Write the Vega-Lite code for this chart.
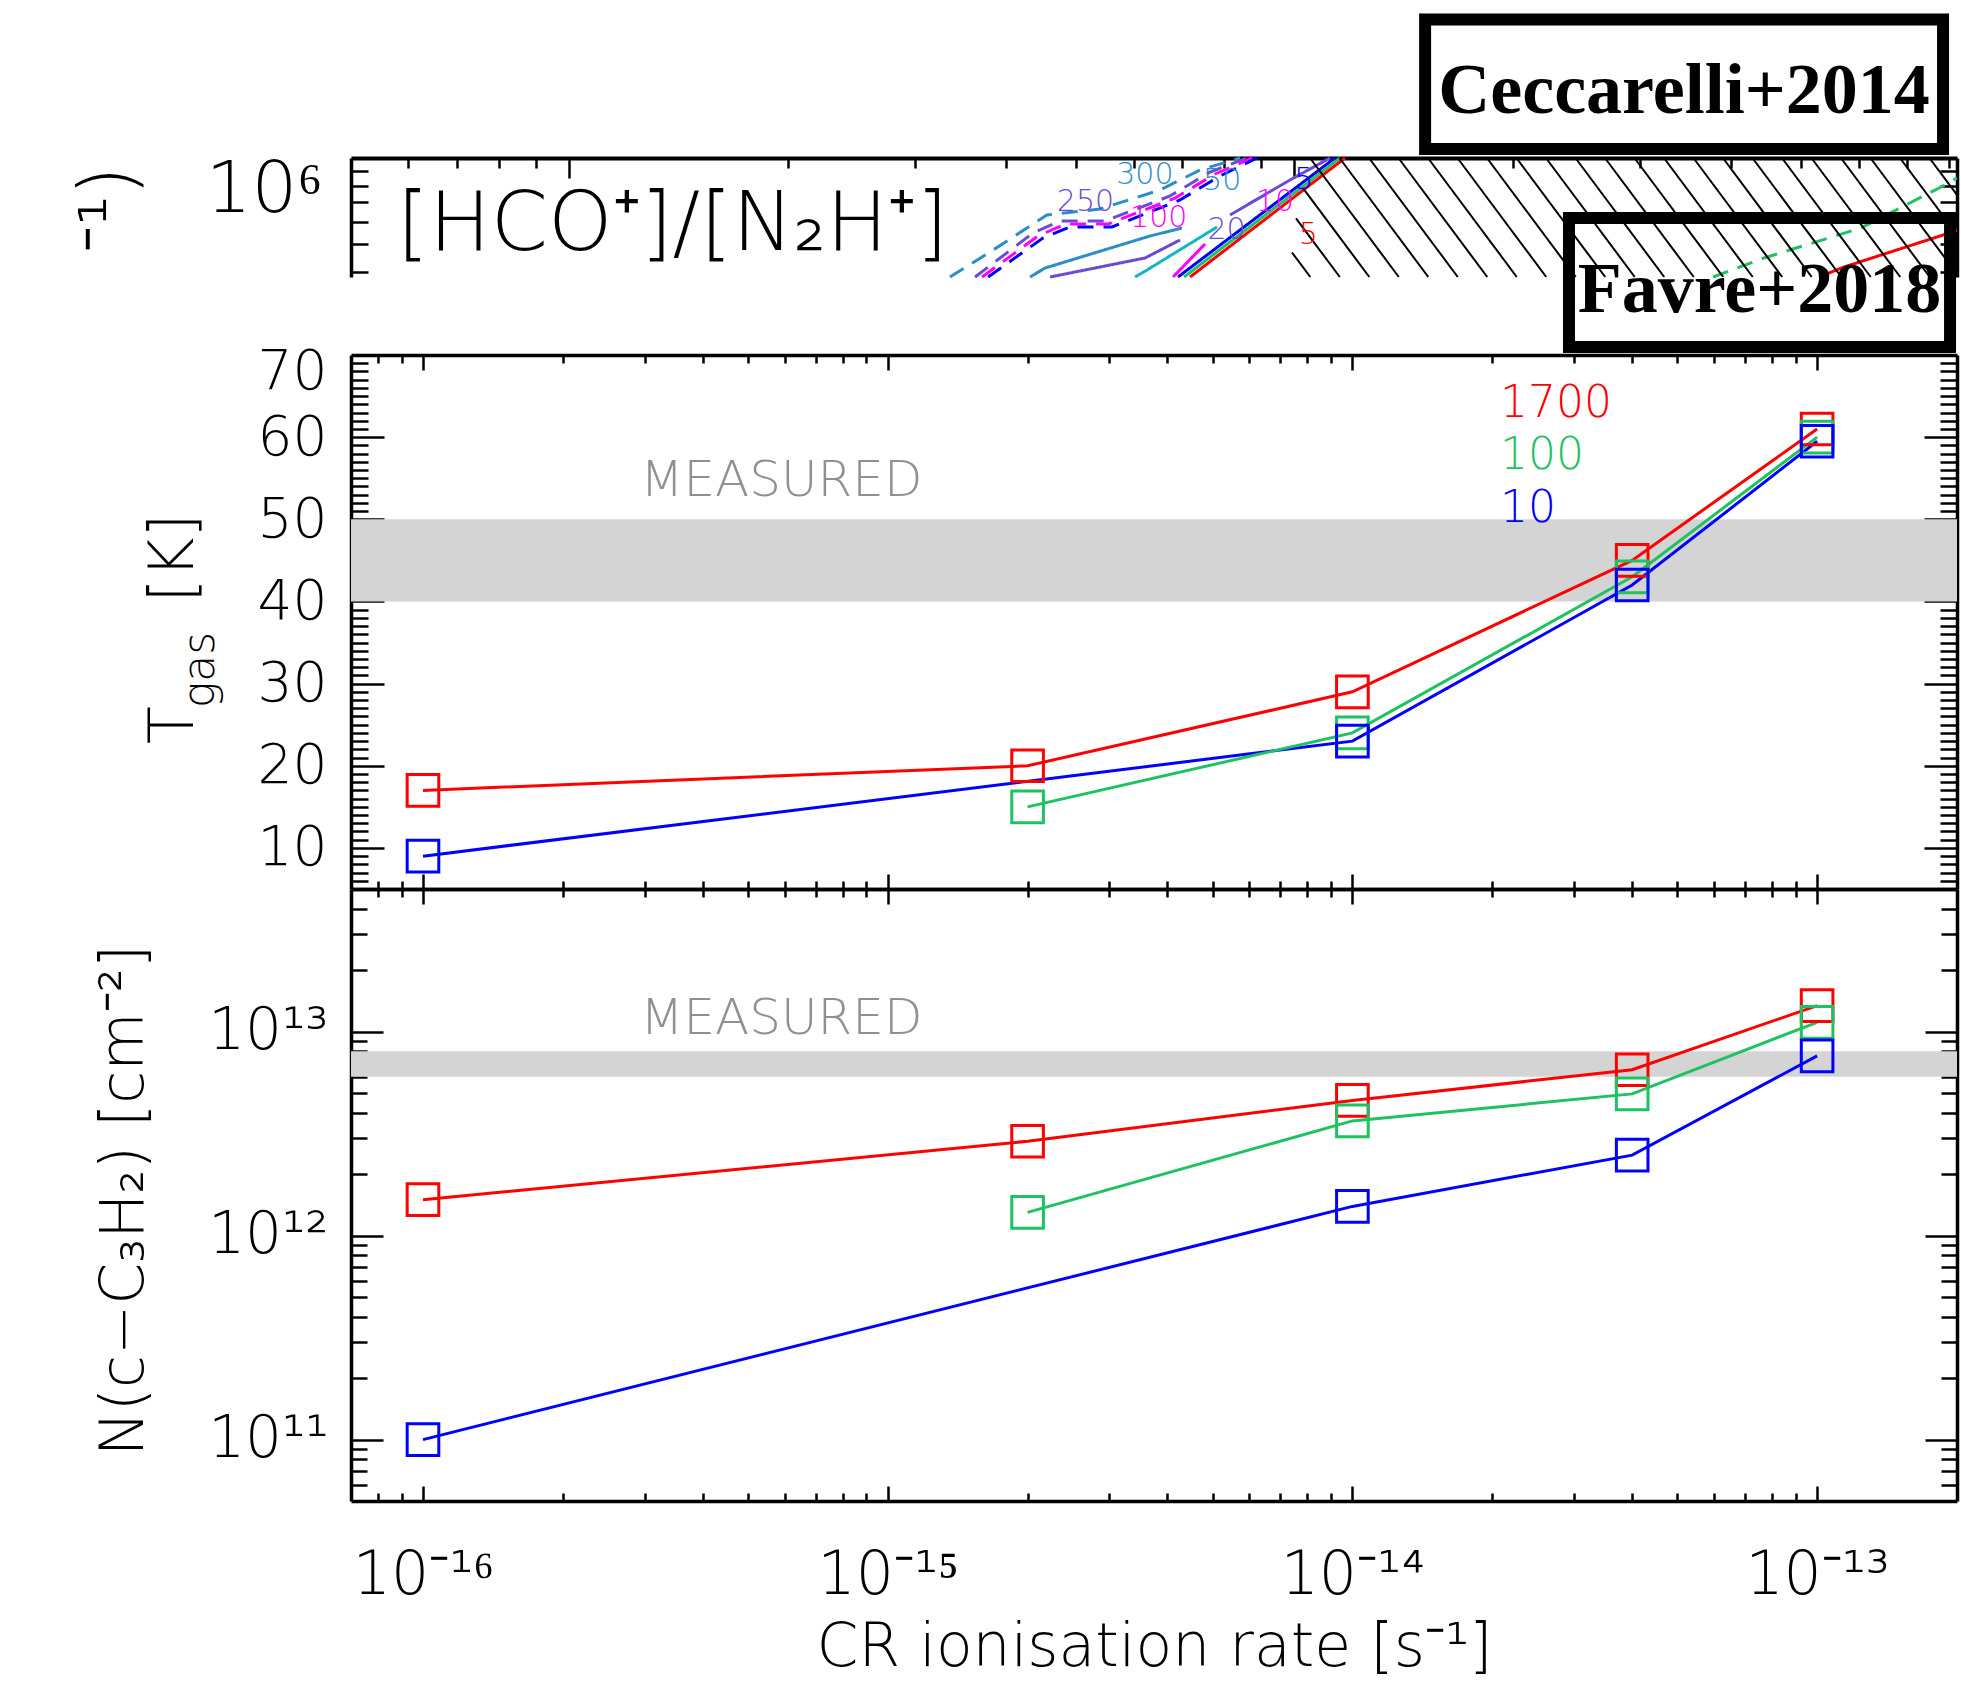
{
  "$schema": "https://vega.github.io/schema/vega-lite/v6.json",
  "width": 1961,
  "height": 1691,
  "autosize": {"type": "none"},
  "padding": 0,
  "background": "white",
  "config": {
    "view": {"stroke": null},
    "axis": {"grid": false, "labelFont": "DejaVu Sans", "titleFont": "DejaVu Sans", "labelFontWeight": 200, "titleFontWeight": 200, "labelColor": "#000000", "titleColor": "#000000", "domainColor": "#000000", "tickColor": "#000000", "domainWidth": 3.5, "tickWidth": 2.5},
    "text": {"font": "DejaVu Sans"}
  },
  "data": {"values": [{}]},
  "datasets": {
    "models": [
      {"zeta": 1e-16, "n": "1700", "T": 17, "N": 1.5e12},
      {"zeta": 1e-16, "n": "10", "T": 9, "N": 1e11},
      {"zeta": 2e-15, "n": "1700", "T": 20, "N": 2.9e12},
      {"zeta": 2e-15, "n": "100", "T": 15, "N": 1.3e12},
      {"zeta": 1e-14, "n": "1700", "T": 29, "N": 4.6e12},
      {"zeta": 1e-14, "n": "100", "T": 24, "N": 3.65e12},
      {"zeta": 1e-14, "n": "10", "T": 23, "N": 1.39e12},
      {"zeta": 4e-14, "n": "1700", "T": 45, "N": 6.5e12},
      {"zeta": 4e-14, "n": "100", "T": 43, "N": 4.95e12},
      {"zeta": 4e-14, "n": "10", "T": 42, "N": 2.48e12},
      {"zeta": 1e-13, "n": "1700", "T": 61, "N": 1.34e13},
      {"zeta": 1e-13, "n": "100", "T": 60, "N": 1.11e13},
      {"zeta": 1e-13, "n": "10", "T": 59.5, "N": 7.6e12}
    ],
    "measured": [
      {"quantity": "T", "lo": 40, "hi": 50},
      {"quantity": "N", "lo": 6e12, "hi": 8e12}
    ],
    "contours": [
      {"s": "c1", "x": 3350, "r": 385000}, {"s": "c1", "x": 3804, "r": 470500}, {"s": "c1", "x": 4558, "r": 633000}, {"s": "c1", "x": 5394, "r": 664200}, {"s": "c1", "x": 6527, "r": 773600}, {"s": "c1", "x": 7411, "r": 908200}, {"s": "c1", "x": 8416, "r": 1000000},
      {"s": "c2", "x": 3627, "r": 385000}, {"s": "c2", "x": 4360, "r": 547900}, {"s": "c2", "x": 4750, "r": 603300}, {"s": "c2", "x": 5481, "r": 603300}, {"s": "c2", "x": 6737, "r": 737300}, {"s": "c2", "x": 7650, "r": 893700}, {"s": "c2", "x": 8605, "r": 1000000},
      {"s": "c3", "x": 3709, "r": 385000}, {"s": "c3", "x": 4430, "r": 534900}, {"s": "c3", "x": 4827, "r": 588800}, {"s": "c3", "x": 5533, "r": 588800}, {"s": "c3", "x": 6845, "r": 725300}, {"s": "c3", "x": 7773, "r": 879600}, {"s": "c3", "x": 8743, "r": 1000000},
      {"s": "c4", "x": 3781, "r": 385000}, {"s": "c4", "x": 4501, "r": 526400}, {"s": "c4", "x": 4904, "r": 575000}, {"s": "c4", "x": 5604, "r": 575000}, {"s": "c4", "x": 6954, "r": 714000}, {"s": "c4", "x": 7897, "r": 865800}, {"s": "c4", "x": 8883, "r": 1000000},
      {"s": "c5", "x": 4319, "r": 385000}, {"s": "c5", "x": 4530, "r": 413700}, {"s": "c5", "x": 6323, "r": 534900}, {"s": "c5", "x": 6999, "r": 570400},
      {"s": "c6", "x": 4603, "r": 385000}, {"s": "c6", "x": 6223, "r": 448400}, {"s": "c6", "x": 6954, "r": 518000},
      {"s": "c7", "x": 6029, "r": 385000}, {"s": "c7", "x": 6263, "r": 407200}, {"s": "c7", "x": 7823, "r": 575000},
      {"s": "c8", "x": 6802, "r": 385000}, {"s": "c8", "x": 7529, "r": 501500},
      {"s": "c9", "x": 6910, "r": 385000}, {"s": "c9", "x": 11376, "r": 1000000},
      {"s": "c10", "x": 7044, "r": 385000}, {"s": "c10", "x": 11559, "r": 1000000},
      {"s": "c11", "x": 7180, "r": 385000}, {"s": "c11", "x": 11744, "r": 1000000},
      {"s": "c12", "x": 8152, "r": 633000}, {"s": "c12", "x": 9862, "r": 838300}, {"s": "c12", "x": 11197, "r": 1000000},
      {"s": "c13", "x": 37790, "r": 385000}, {"s": "c13", "x": 44430, "r": 448400}, {"s": "c13", "x": 60440, "r": 570400}, {"s": "c13", "x": 77950, "r": 792500}, {"s": "c13", "x": 82000, "r": 851800},
      {"s": "c14", "x": 52900, "r": 385000}, {"s": "c14", "x": 57280, "r": 417100}, {"s": "c14", "x": 78450, "r": 539200}, {"s": "c14", "x": 82000, "r": 561200}
    ],
    "hatch": [
      {"x1": 10509, "r1": 1000000, "x2": 13931, "r2": 385000},
      {"x1": 11541, "r1": 1000000, "x2": 15299, "r2": 385000},
      {"x1": 12674, "r1": 1000000, "x2": 16801, "r2": 385000},
      {"x1": 13918, "r1": 1000000, "x2": 18450, "r2": 385000},
      {"x1": 15285, "r1": 1000000, "x2": 20262, "r2": 385000},
      {"x1": 16786, "r1": 1000000, "x2": 22252, "r2": 385000},
      {"x1": 18434, "r1": 1000000, "x2": 24436, "r2": 385000},
      {"x1": 20244, "r1": 1000000, "x2": 26836, "r2": 385000},
      {"x1": 22232, "r1": 1000000, "x2": 29471, "r2": 385000},
      {"x1": 24415, "r1": 1000000, "x2": 32365, "r2": 385000},
      {"x1": 26813, "r1": 1000000, "x2": 35544, "r2": 385000},
      {"x1": 29446, "r1": 1000000, "x2": 39034, "r2": 385000},
      {"x1": 32337, "r1": 1000000, "x2": 42866, "r2": 385000},
      {"x1": 35512, "r1": 1000000, "x2": 47075, "r2": 385000},
      {"x1": 38999, "r1": 1000000, "x2": 51698, "r2": 385000},
      {"x1": 42829, "r1": 1000000, "x2": 56774, "r2": 385000},
      {"x1": 47034, "r1": 1000000, "x2": 62349, "r2": 385000},
      {"x1": 51653, "r1": 1000000, "x2": 68472, "r2": 385000},
      {"x1": 56725, "r1": 1000000, "x2": 75196, "r2": 385000},
      {"x1": 62295, "r1": 1000000, "x2": 82000, "r2": 394600},
      {"x1": 68412, "r1": 1000000, "x2": 82000, "r2": 541800},
      {"x1": 75130, "r1": 1000000, "x2": 82000, "r2": 743700},
      {"x1": 10277, "r1": 784800, "x2": 12686, "r2": 385000},
      {"x1": 10051, "r1": 615900, "x2": 11552, "r2": 385000},
      {"x1": 9924, "r1": 468600, "x2": 10519, "r2": 385000}
    ],
    "clabels": [
      {"s": "c1", "label": "300", "x": 6220, "r": 870000},
      {"s": "c2", "label": "250", "x": 5150, "r": 700000},
      {"s": "c3", "label": "100", "x": 6500, "r": 620000},
      {"s": "c5", "label": "50", "x": 7950, "r": 830000},
      {"s": "c6", "label": "20", "x": 8060, "r": 560000},
      {"s": "c8", "label": "10", "x": 9400, "r": 700000},
      {"s": "c11", "label": "5", "x": 10450, "r": 540000},
      {"s": "c9", "label": "5", "x": 10300, "r": 840000}
    ]
  },
  "layer": [
    {
      "data": {"name": "measured"},
      "transform": [{"filter": "datum.quantity == 'T'"}],
      "mark": {"type": "rect", "fill": "#d4d4d4"},
      "encoding": {
        "x": {"datum": 7e-17, "type": "quantitative", "scale": {"type": "log", "domain": [7e-17, 2e-13], "range": [351, 1957], "nice": false},
              "axis": {"orient": "top", "offset": -355, "values": [8e-17, 9e-17, 1e-16, 2e-16, 3e-16, 4e-16, 5e-16, 6e-16, 7e-16, 8e-16, 9e-16, 1e-15, 2e-15, 3e-15, 4e-15, 5e-15, 6e-15, 7e-15, 8e-15, 9e-15, 1e-14, 2e-14, 3e-14, 4e-14, 5e-14, 6e-14, 7e-14, 8e-14, 9e-14, 1e-13], "labels": false, "title": null, "tickSize": {"condition": {"test": "abs(log(datum.value)/LN10 - round(log(datum.value)/LN10)) < 0.01", "value": -15}, "value": -8}}},
        "x2": {"datum": 2e-13},
        "y": {"field": "lo", "type": "quantitative", "scale": {"type": "linear", "domain": [5, 70], "range": [889, 355], "nice": false, "zero": false},
              "axis": {"orient": "left", "offset": -351, "values": [6,7,8,9,10,11,12,13,14,15,16,17,18,19,20,21,22,23,24,25,26,27,28,29,30,31,32,33,34,35,36,37,38,39,40,41,42,43,44,45,46,47,48,49,50,51,52,53,54,55,56,57,58,59,60,61,62,63,64,65,66,67,68,69], "labels": false, "title": null, "tickSize": {"condition": {"test": "datum.value % 10 == 0", "value": -33}, "value": -17}}},
        "y2": {"field": "hi"}
      }
    },
    {
      "data": {"name": "measured"},
      "transform": [{"filter": "datum.quantity == 'N'"}],
      "mark": {"type": "rect", "fill": "#d4d4d4"},
      "encoding": {
        "x": {"datum": 7e-17, "type": "quantitative", "scale": {"type": "log", "domain": [7e-17, 2e-13], "range": [351, 1957], "nice": false},
              "axis": {"orient": "top", "offset": -889, "values": [8e-17, 9e-17, 1e-16, 2e-16, 3e-16, 4e-16, 5e-16, 6e-16, 7e-16, 8e-16, 9e-16, 1e-15, 2e-15, 3e-15, 4e-15, 5e-15, 6e-15, 7e-15, 8e-15, 9e-15, 1e-14, 2e-14, 3e-14, 4e-14, 5e-14, 6e-14, 7e-14, 8e-14, 9e-14, 1e-13], "labels": false, "title": null, "tickSize": {"condition": {"test": "abs(log(datum.value)/LN10 - round(log(datum.value)/LN10)) < 0.01", "value": -15}, "value": -8}}},
        "x2": {"datum": 2e-13},
        "y": {"field": "lo", "type": "quantitative", "scale": {"type": "log", "domain": [5e10, 5e13], "range": [1501, 889], "nice": false},
              "axis": {"orient": "left", "offset": -351, "values": [6e10, 7e10, 8e10, 9e10, 1e11, 2e11, 3e11, 4e11, 5e11, 6e11, 7e11, 8e11, 9e11, 1e12, 2e12, 3e12, 4e12, 5e12, 6e12, 7e12, 8e12, 9e12, 1e13, 2e13, 3e13, 4e13], "labels": false, "title": null, "tickSize": {"condition": {"test": "abs(log(datum.value)/LN10 - round(log(datum.value)/LN10)) < 0.01", "value": -32}, "value": -16}}},
        "y2": {"field": "hi"}
      }
    },
    {
      "data": {"name": "models"},
      "mark": {"type": "line", "strokeWidth": 3},
      "encoding": {
        "x": {"field": "zeta", "type": "quantitative", "scale": {"type": "log", "domain": [7e-17, 2e-13], "range": [351, 1957], "nice": false},
              "axis": {"orient": "bottom", "offset": -802, "values": [8e-17, 9e-17, 1e-16, 2e-16, 3e-16, 4e-16, 5e-16, 6e-16, 7e-16, 8e-16, 9e-16, 1e-15, 2e-15, 3e-15, 4e-15, 5e-15, 6e-15, 7e-15, 8e-15, 9e-15, 1e-14, 2e-14, 3e-14, 4e-14, 5e-14, 6e-14, 7e-14, 8e-14, 9e-14, 1e-13], "labels": false, "title": null, "tickSize": {"condition": {"test": "abs(log(datum.value)/LN10 - round(log(datum.value)/LN10)) < 0.01", "value": -15}, "value": -8}}},
        "y": {"field": "T", "type": "quantitative", "scale": {"type": "linear", "domain": [5, 70], "range": [889, 355], "nice": false, "zero": false},
              "axis": {"orient": "right", "offset": -4, "values": [6,7,8,9,10,11,12,13,14,15,16,17,18,19,20,21,22,23,24,25,26,27,28,29,30,31,32,33,34,35,36,37,38,39,40,41,42,43,44,45,46,47,48,49,50,51,52,53,54,55,56,57,58,59,60,61,62,63,64,65,66,67,68,69], "labels": false, "title": null, "tickSize": {"condition": {"test": "datum.value % 10 == 0", "value": -33}, "value": -17}}},
        "color": {"field": "n", "type": "nominal", "scale": {"domain": ["1700", "100", "10"], "range": ["#ff0000", "#1fc262", "#0000ff"]}, "legend": null}
      }
    },
    {
      "data": {"name": "models"},
      "mark": {"type": "point", "shape": "square", "filled": false, "size": 1000, "strokeWidth": 3, "opacity": 1},
      "encoding": {
        "x": {"field": "zeta", "type": "quantitative", "scale": {"type": "log", "domain": [7e-17, 2e-13], "range": [351, 1957], "nice": false},
              "axis": {"orient": "bottom", "offset": -190, "values": [8e-17, 9e-17, 1e-16, 2e-16, 3e-16, 4e-16, 5e-16, 6e-16, 7e-16, 8e-16, 9e-16, 1e-15, 2e-15, 3e-15, 4e-15, 5e-15, 6e-15, 7e-15, 8e-15, 9e-15, 1e-14, 2e-14, 3e-14, 4e-14, 5e-14, 6e-14, 7e-14, 8e-14, 9e-14, 1e-13], "labels": false, "title": null, "tickSize": {"condition": {"test": "abs(log(datum.value)/LN10 - round(log(datum.value)/LN10)) < 0.01", "value": -15}, "value": -8}}},
        "y": {"field": "T", "type": "quantitative", "scale": {"type": "linear", "domain": [5, 70], "range": [889, 355], "nice": false, "zero": false},
              "axis": {"orient": "left", "offset": -351, "values": [10, 20, 30, 40, 50, 60, 70], "ticks": false, "tickSize": 0, "domain": false, "labelFontSize": 55, "labelPadding": 24, "labelFlush": true, "labelFlushOffset": 10, "labelOverlap": false, "title": null}},
        "color": {"field": "n", "type": "nominal", "scale": {"domain": ["1700", "100", "10"], "range": ["#ff0000", "#1fc262", "#0000ff"]}, "legend": null}
      }
    },
    {
      "data": {"name": "models"},
      "mark": {"type": "line", "strokeWidth": 3},
      "encoding": {
        "x": {"field": "zeta", "type": "quantitative", "scale": {"type": "log", "domain": [7e-17, 2e-13], "range": [351, 1957], "nice": false},
              "axis": {"orient": "bottom", "offset": -190, "values": [1e-16, 1e-15, 1e-14, 1e-13], "ticks": false, "tickSize": 0, "domain": false, "labelExpr": "datum.value < 5e-16 ? '10⁻¹⁶' : datum.value < 5e-15 ? '10⁻¹⁵' : datum.value < 5e-14 ? '10⁻¹⁴' : '10⁻¹³'", "labelFontSize": 60, "labelPadding": 45, "labelFlush": false, "labelOverlap": false, "title": "CR ionisation rate [s⁻¹]", "titleFontSize": 60, "titleY": 164, "titleBaseline": "alphabetic"}},
        "y": {"field": "N", "type": "quantitative", "scale": {"type": "log", "domain": [5e10, 5e13], "range": [1501, 889], "nice": false},
              "axis": {"orient": "right", "offset": -4, "values": [6e10, 7e10, 8e10, 9e10, 1e11, 2e11, 3e11, 4e11, 5e11, 6e11, 7e11, 8e11, 9e11, 1e12, 2e12, 3e12, 4e12, 5e12, 6e12, 7e12, 8e12, 9e12, 1e13, 2e13, 3e13, 4e13], "labels": false, "title": null, "tickSize": {"condition": {"test": "abs(log(datum.value)/LN10 - round(log(datum.value)/LN10)) < 0.01", "value": -32}, "value": -16}}},
        "color": {"field": "n", "type": "nominal", "scale": {"domain": ["1700", "100", "10"], "range": ["#ff0000", "#1fc262", "#0000ff"]}, "legend": null}
      }
    },
    {
      "data": {"name": "models"},
      "mark": {"type": "point", "shape": "square", "filled": false, "size": 1000, "strokeWidth": 3, "opacity": 1},
      "encoding": {
        "x": {"field": "zeta", "type": "quantitative", "scale": {"type": "log", "domain": [7e-17, 2e-13], "range": [351, 1957], "nice": false}, "axis": null},
        "y": {"field": "N", "type": "quantitative", "scale": {"type": "log", "domain": [5e10, 5e13], "range": [1501, 889], "nice": false},
              "axis": {"orient": "left", "offset": -351, "values": [1e11, 1e12, 1e13], "ticks": false, "tickSize": 0, "domain": false, "labelExpr": "datum.value < 5e11 ? '10¹¹' : datum.value < 5e12 ? '10¹²' : '10¹³'", "labelFontSize": 58, "labelPadding": 23, "labelFlush": false, "labelOverlap": false, "title": "N(c−C₃H₂)  [cm⁻²]", "titleFontSize": 60, "titleAngle": 270, "titleX": -209, "titleY": 1200, "titleAlign": "center", "titleBaseline": "alphabetic"}},
        "color": {"field": "n", "type": "nominal", "scale": {"domain": ["1700", "100", "10"], "range": ["#ff0000", "#1fc262", "#0000ff"]}, "legend": null}
      }
    },
    {
      "data": {"name": "contours"},
      "mark": {"type": "line", "strokeWidth": 3},
      "encoding": {
        "x": {"field": "x", "type": "quantitative", "scale": {"type": "log", "domain": [500, 82000], "range": [351, 1957], "nice": false},
              "axis": {"orient": "top", "offset": -158, "values": [600, 700, 800, 900, 1000, 2000, 3000, 4000, 5000, 6000, 7000, 8000, 9000, 10000, 20000, 30000, 40000, 50000, 60000, 70000, 80000], "labels": false, "title": null, "domainWidth": 4, "tickSize": {"condition": {"test": "abs(log(datum.value)/LN10 - round(log(datum.value)/LN10)) < 0.01", "value": -20}, "value": -10}}},
        "y": {"field": "r", "type": "quantitative", "scale": {"type": "log", "domain": [385000, 1000000], "range": [277, 158], "nice": false},
              "axis": {"orient": "left", "offset": -351, "values": [400000, 500000, 600000, 700000, 800000, 900000], "labels": false, "title": null, "tickSize": -17}},
        "color": {"field": "s", "type": "nominal", "scale": {"domain": ["c1","c2","c3","c4","c5","c6","c7","c8","c9","c10","c11","c12","c13","c14"], "range": ["#2c8ec6","#6b4bd1","#ff00ff","#0000ff","#2c8ec6","#6b4bd1","#15b5c9","#ff00ff","#0000ff","#1fc262","#ff0000","#6b4bd1","#1fc262","#ff0000"]}, "legend": null},
        "strokeDash": {"field": "s", "type": "nominal", "scale": {"domain": ["c1","c2","c3","c4","c5","c6","c7","c8","c9","c10","c11","c12","c13","c14"], "range": [[16,10],[16,10],[16,10],[16,10],[1,0],[1,0],[1,0],[1,0],[1,0],[1,0],[1,0],[1,0],[16,10],[1,0]]}, "legend": null}
      }
    },
    {
      "data": {"name": "hatch"},
      "mark": {"type": "rule", "color": "#000000", "strokeWidth": 2},
      "encoding": {
        "x": {"field": "x1", "type": "quantitative", "scale": {"type": "log", "domain": [500, 82000], "range": [351, 1957], "nice": false}, "axis": null},
        "x2": {"field": "x2"},
        "y": {"field": "r1", "type": "quantitative", "scale": {"type": "log", "domain": [385000, 1000000], "range": [277, 158], "nice": false},
              "axis": {"orient": "right", "offset": -4, "values": [400000, 500000, 600000, 700000, 800000, 900000], "labels": false, "title": null, "tickSize": -17}},
        "y2": {"field": "r2"}
      }
    },
    {
      "data": {"name": "clabels"},
      "mark": {"type": "text", "fontSize": 30, "fontWeight": 200, "align": "center", "baseline": "middle"},
      "encoding": {
        "x": {"field": "x", "type": "quantitative", "scale": {"type": "log", "domain": [500, 82000], "range": [351, 1957], "nice": false}, "axis": null},
        "y": {"field": "r", "type": "quantitative", "scale": {"type": "log", "domain": [385000, 1000000], "range": [277, 158], "nice": false},
              "axis": {"orient": "left", "offset": -351, "values": [1000000], "ticks": false, "tickSize": 0, "domain": false, "labelExpr": "'10⁶'", "labelFontSize": 72, "labelPadding": 29, "labelBaseline": "alphabetic", "labelOffset": 53, "labelFlush": false, "labelOverlap": false, "title": null}},
        "text": {"field": "label"},
        "color": {"field": "s", "type": "nominal", "scale": {"domain": ["c1","c2","c3","c4","c5","c6","c7","c8","c9","c10","c11","c12","c13","c14"], "range": ["#2c8ec6","#6b4bd1","#ff00ff","#0000ff","#2c8ec6","#6b4bd1","#15b5c9","#ff00ff","#0000ff","#1fc262","#ff0000","#6b4bd1","#1fc262","#ff0000"]}, "legend": null}
      }
    },
    {
      "mark": {"type": "text", "text": "[HCO⁺]/[N₂H⁺]", "fontSize": 82, "fontWeight": 200, "align": "left", "baseline": "alphabetic", "color": "#000000"},
      "encoding": {
        "x": {"datum": 578.8, "type": "quantitative", "scale": {"type": "log", "domain": [500, 82000], "range": [351, 1957], "nice": false}, "axis": null},
        "y": {"datum": 478000, "type": "quantitative", "scale": {"type": "log", "domain": [385000, 1000000], "range": [277, 158], "nice": false}, "axis": null}
      }
    },
    {
      "mark": {"type": "text", "text": "⁻¹)", "fontSize": 76, "fontWeight": 200, "angle": 270, "align": "right", "baseline": "alphabetic", "color": "#000000"},
      "encoding": {
        "x": {"datum": 250, "type": "quantitative", "scale": {"type": "log", "domain": [500, 82000], "range": [351, 1957], "nice": false}, "axis": null},
        "y": {"datum": 938000, "type": "quantitative", "scale": {"type": "log", "domain": [385000, 1000000], "range": [277, 158], "nice": false}, "axis": null}
      }
    },
    {
      "mark": {"type": "rect", "fill": "#ffffff", "stroke": "#000000", "strokeWidth": 12},
      "encoding": {
        "x": {"datum": 15145, "type": "quantitative", "scale": {"type": "log", "domain": [500, 82000], "range": [351, 1957], "nice": false}, "axis": null},
        "x2": {"datum": 78450},
        "y": {"datum": 3038000, "type": "quantitative", "scale": {"type": "log", "domain": [385000, 1000000], "range": [277, 158], "nice": false}, "axis": null},
        "y2": {"datum": 1074900}
      }
    },
    {
      "mark": {"type": "rect", "fill": "transparent", "stroke": "#000000", "strokeWidth": 12},
      "encoding": {
        "x": {"datum": 23916, "type": "quantitative", "scale": {"type": "log", "domain": [500, 82000], "range": [351, 1957], "nice": false}, "axis": null},
        "x2": {"datum": 80210},
        "y": {"datum": 617900, "type": "quantitative", "scale": {"type": "log", "domain": [385000, 1000000], "range": [277, 158], "nice": false}, "axis": null},
        "y2": {"datum": 219500}
      }
    },
    {
      "mark": {"type": "text", "text": "Ceccarelli+2014", "font": "Liberation Serif", "fontWeight": "bold", "fontSize": 72, "align": "center", "baseline": "alphabetic", "color": "#000000"},
      "encoding": {
        "x": {"datum": 34460, "type": "quantitative", "scale": {"type": "log", "domain": [500, 82000], "range": [351, 1957], "nice": false}, "axis": null},
        "y": {"datum": 1435000, "type": "quantitative", "scale": {"type": "log", "domain": [385000, 1000000], "range": [277, 158], "nice": false}, "axis": null}
      }
    },
    {
      "mark": {"type": "text", "text": "Favre+2018", "font": "Liberation Serif", "fontWeight": "bold", "fontSize": 72, "align": "center", "baseline": "alphabetic", "color": "#000000"},
      "encoding": {
        "x": {"datum": 43800, "type": "quantitative", "scale": {"type": "log", "domain": [500, 82000], "range": [351, 1957], "nice": false}, "axis": null},
        "y": {"datum": 290700, "type": "quantitative", "scale": {"type": "log", "domain": [385000, 1000000], "range": [277, 158], "nice": false}, "axis": null}
      }
    },
    {
      "mark": {"type": "text", "text": "MEASURED", "fontSize": 50, "fontWeight": 200, "align": "center", "baseline": "alphabetic", "color": "#909090"},
      "encoding": {
        "x": {"datum": 5.905e-16, "type": "quantitative", "scale": {"type": "log", "domain": [7e-17, 2e-13], "range": [351, 1957], "nice": false}, "axis": null},
        "y": {"datum": 52.84, "type": "quantitative", "scale": {"type": "linear", "domain": [5, 70], "range": [889, 355], "nice": false, "zero": false}, "axis": null}
      }
    },
    {
      "mark": {"type": "text", "text": "MEASURED", "fontSize": 50, "fontWeight": 200, "align": "center", "baseline": "alphabetic", "color": "#909090"},
      "encoding": {
        "x": {"datum": 5.905e-16, "type": "quantitative", "scale": {"type": "log", "domain": [7e-17, 2e-13], "range": [351, 1957], "nice": false}, "axis": null},
        "y": {"datum": 9.73e12, "type": "quantitative", "scale": {"type": "log", "domain": [5e10, 5e13], "range": [1501, 889], "nice": false}, "axis": null}
      }
    },
    {
      "mark": {"type": "text", "text": "1700", "fontSize": 44, "fontWeight": 200, "align": "left", "baseline": "alphabetic", "color": "#ff0000"},
      "encoding": {
        "x": {"datum": 2.077e-14, "type": "quantitative", "scale": {"type": "log", "domain": [7e-17, 2e-13], "range": [351, 1957], "nice": false}, "axis": null},
        "y": {"datum": 62.5, "type": "quantitative", "scale": {"type": "linear", "domain": [5, 70], "range": [889, 355], "nice": false, "zero": false}, "axis": null}
      }
    },
    {
      "mark": {"type": "text", "text": "100", "fontSize": 44, "fontWeight": 200, "align": "left", "baseline": "alphabetic", "color": "#1fc262"},
      "encoding": {
        "x": {"datum": 2.077e-14, "type": "quantitative", "scale": {"type": "log", "domain": [7e-17, 2e-13], "range": [351, 1957], "nice": false}, "axis": null},
        "y": {"datum": 56.1, "type": "quantitative", "scale": {"type": "linear", "domain": [5, 70], "range": [889, 355], "nice": false, "zero": false}, "axis": null}
      }
    },
    {
      "mark": {"type": "text", "text": "10", "fontSize": 44, "fontWeight": 200, "align": "left", "baseline": "alphabetic", "color": "#0000ff"},
      "encoding": {
        "x": {"datum": 2.077e-14, "type": "quantitative", "scale": {"type": "log", "domain": [7e-17, 2e-13], "range": [351, 1957], "nice": false}, "axis": null},
        "y": {"datum": 49.7, "type": "quantitative", "scale": {"type": "linear", "domain": [5, 70], "range": [889, 355], "nice": false, "zero": false}, "axis": null}
      }
    },
    {
      "mark": {"type": "text", "text": "T", "fontSize": 62, "fontWeight": 200, "angle": 270, "align": "center", "baseline": "alphabetic", "color": "#000000"},
      "encoding": {
        "x": {"datum": 3.199e-17, "type": "quantitative", "scale": {"type": "log", "domain": [7e-17, 2e-13], "range": [351, 1957], "nice": false}, "axis": null},
        "y": {"datum": 24.96, "type": "quantitative", "scale": {"type": "linear", "domain": [5, 70], "range": [889, 355], "nice": false, "zero": false}, "axis": null}
      }
    },
    {
      "mark": {"type": "text", "text": "gas", "fontSize": 44, "fontWeight": 200, "angle": 270, "align": "center", "baseline": "alphabetic", "color": "#000000"},
      "encoding": {
        "x": {"datum": 3.549e-17, "type": "quantitative", "scale": {"type": "log", "domain": [7e-17, 2e-13], "range": [351, 1957], "nice": false}, "axis": null},
        "y": {"datum": 31.66, "type": "quantitative", "scale": {"type": "linear", "domain": [5, 70], "range": [889, 355], "nice": false, "zero": false}, "axis": null}
      }
    },
    {
      "mark": {"type": "text", "text": "[K]", "fontSize": 62, "fontWeight": 200, "angle": 270, "align": "center", "baseline": "alphabetic", "color": "#000000"},
      "encoding": {
        "x": {"datum": 3.199e-17, "type": "quantitative", "scale": {"type": "log", "domain": [7e-17, 2e-13], "range": [351, 1957], "nice": false}, "axis": null},
        "y": {"datum": 45.29, "type": "quantitative", "scale": {"type": "linear", "domain": [5, 70], "range": [889, 355], "nice": false, "zero": false}, "axis": null}
      }
    }
  ],
  "resolve": {"scale": {"x": "independent", "y": "independent", "color": "independent", "strokeDash": "independent"}}
}
